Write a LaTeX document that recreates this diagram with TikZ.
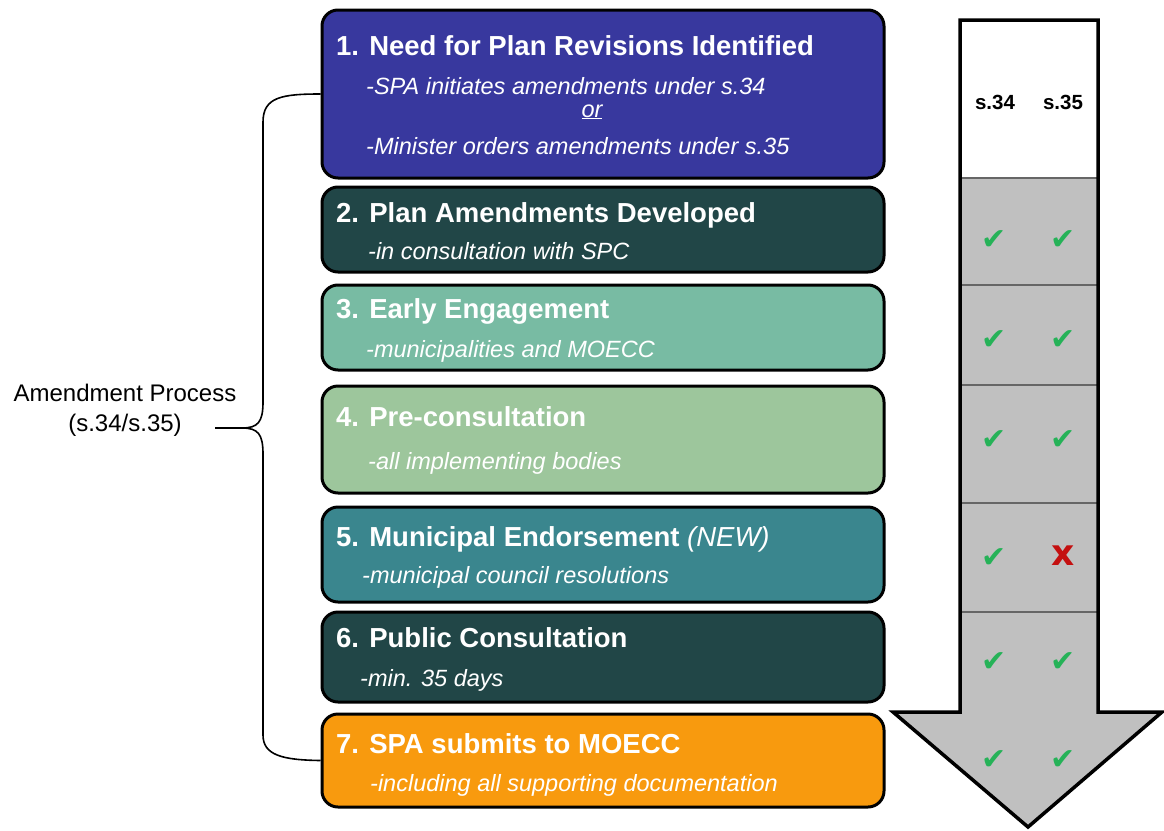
\documentclass[tikz,border=0pt]{standalone}
\usepackage{fontspec}
\setmainfont{Liberation Sans}
\newfontfamily\symfont{DejaVu Sans}
\usetikzlibrary{positioning,calc}

\definecolor{needblue}{RGB}{56,56,158}
\definecolor{darkteal}{RGB}{33,70,71}
\definecolor{seafoam}{RGB}{120,187,163}
\definecolor{sagegreen}{RGB}{157,198,156}
\definecolor{midteal}{RGB}{58,134,142}
\definecolor{submitorange}{RGB}{248,154,14}
\definecolor{arrowgrey}{RGB}{192,192,192}
\definecolor{tickgreen}{RGB}{38,178,88}
\definecolor{crossred}{RGB}{196,16,16}

\tikzset{
  stepbox/.style={draw=black, line width=3pt, rounded corners=16pt,
    minimum width=562pt, inner sep=0pt},
  steptitle/.style={anchor=base west, inner sep=0pt, text=white,
    font=\fontsize{27.5}{32}\selectfont\bfseries},
  stepnote/.style={anchor=base west, inner sep=0pt, text=white,
    font=\fontsize{23.5}{28}\selectfont\itshape},
  colhead/.style={inner sep=0pt, font=\fontsize{20.5}{24}\selectfont\bfseries},
  tick/.style={inner sep=0pt, text=tickgreen, font=\symfont\fontsize{30}{30}\selectfont},
  cross/.style={inner sep=0pt, text=crossred, font=\symfont\fontsize{36}{36}\selectfont\bfseries},
}

\begin{document}
\begin{tikzpicture}[x=1pt,y=-1pt]
  \useasboundingbox (0,0) rectangle (1164,830);

  % process steps
  \node[stepbox, fill=needblue,     minimum height=168pt] (b1) at (603,94)    {};
  \node[stepbox, fill=darkteal,     minimum height=85pt]  (b2) at (603,229.5) {};
  \node[stepbox, fill=seafoam,      minimum height=85pt]  (b3) at (603,327.5) {};
  \node[stepbox, fill=sagegreen,    minimum height=107pt] (b4) at (603,439.5) {};
  \node[stepbox, fill=midteal,      minimum height=95pt]  (b5) at (603,554.5) {};
  \node[stepbox, fill=darkteal,     minimum height=90pt]  (b6) at (603,657)   {};
  \node[stepbox, fill=submitorange, minimum height=93pt]  (b7) at (603,760.5) {};

  \node[steptitle] (t1) at (336,55)  {1. Need for Plan Revisions Identified};
  \node[stepnote]  (n1a) at (366,94) {-SPA initiates amendments under s.34};
  \node[stepnote, anchor=base] (n1or) at (592,117) {\underline{or}};
  \node[stepnote]  (n1b) at (366,154) {-Minister orders amendments under s.35};

  \node[steptitle] (t2) at (336,222) {2. Plan Amendments Developed};
  \node[stepnote]  (n2) at (368,259) {-in consultation with SPC};

  \node[steptitle] (t3) at (336,318) {3. Early Engagement};
  \node[stepnote]  (n3) at (366,357) {-municipalities and MOECC};

  \node[steptitle] (t4) at (336,426) {4. Pre-consultation};
  \node[stepnote]  (n4) at (368,469) {-all implementing bodies};

  \node[steptitle] (t5) at (336,546) {5. Municipal Endorsement \textmd{\itshape(NEW)}};
  \node[stepnote]  (n5) at (362,583) {-municipal council resolutions};

  \node[steptitle] (t6) at (336,647) {6. Public Consultation};
  \node[stepnote]  (n6) at (360,686) {-min. 35 days};

  \node[steptitle] (t7) at (336,753) {7. SPA submits to MOECC};
  \node[stepnote]  (n7) at (370,791) {-including all supporting documentation};

  % grouping brace
  \node[align=center, inner sep=0pt, font=\fontsize{24}{30}\selectfont]
    (amend) at (125,410) {Amendment Process\\(s.34/s.35)};
  \coordinate (tip) at (215,428);
  \draw[line width=1.6pt]
    (b1.west) .. controls (282,94) and (263,97) .. (263,122)
    -- (263,402) .. controls (263,422) and (258,428) .. (242,428) -- (tip);
  \draw[line width=1.6pt]
    (tip) -- (242,428) .. controls (258,428) and (263,434) .. (263,454)
    -- (263,735) .. controls (263,755) and (282,760) .. (b7.west);

  % applicability arrow
  \fill[arrowgrey] (960,20) -- (1098,20) -- (1098,712) -- (1162,712)
    -- (1028,827) -- (893,712) -- (960,712) -- cycle;
  \fill[white] (960,20) rectangle (1098,178);
  \draw[line width=1.4pt, black!60] (961,178) -- (1097,178);
  \draw[line width=1.4pt, black!60] (961,285) -- (1097,285);
  \draw[line width=1.4pt, black!60] (961,385) -- (1097,385);
  \draw[line width=1.4pt, black!60] (961,503) -- (1097,503);
  \draw[line width=1.4pt, black!60] (961,612) -- (1097,612);
  \draw[line width=3.5pt, line join=miter] (960,20) -- (1098,20) -- (1098,712)
    -- (1162,712) -- (1028,827) -- (893,712) -- (960,712) -- cycle;

  \node[colhead] (h34) at (995,102) {s.34};
  \node[colhead] (h35) at (1063,102) {s.35};

  \node[tick] (c2a) at (994,240) {✔};
  \node[tick] (c2b) at (1063,240) {✔};
  \node[tick] (c3a) at (994,340) {✔};
  \node[tick] (c3b) at (1063,340) {✔};
  \node[tick] (c4a) at (994,440) {✔};
  \node[tick] (c4b) at (1063,440) {✔};
  \node[tick] (c5a) at (994,558) {✔};
  \node[cross] (c5b) at (1063,556) {x};
  \node[tick] (c6a) at (994,662) {✔};
  \node[tick] (c6b) at (1063,662) {✔};
  \node[tick] (c7a) at (994,760) {✔};
  \node[tick] (c7b) at (1063,760) {✔};
\end{tikzpicture}
\end{document}
